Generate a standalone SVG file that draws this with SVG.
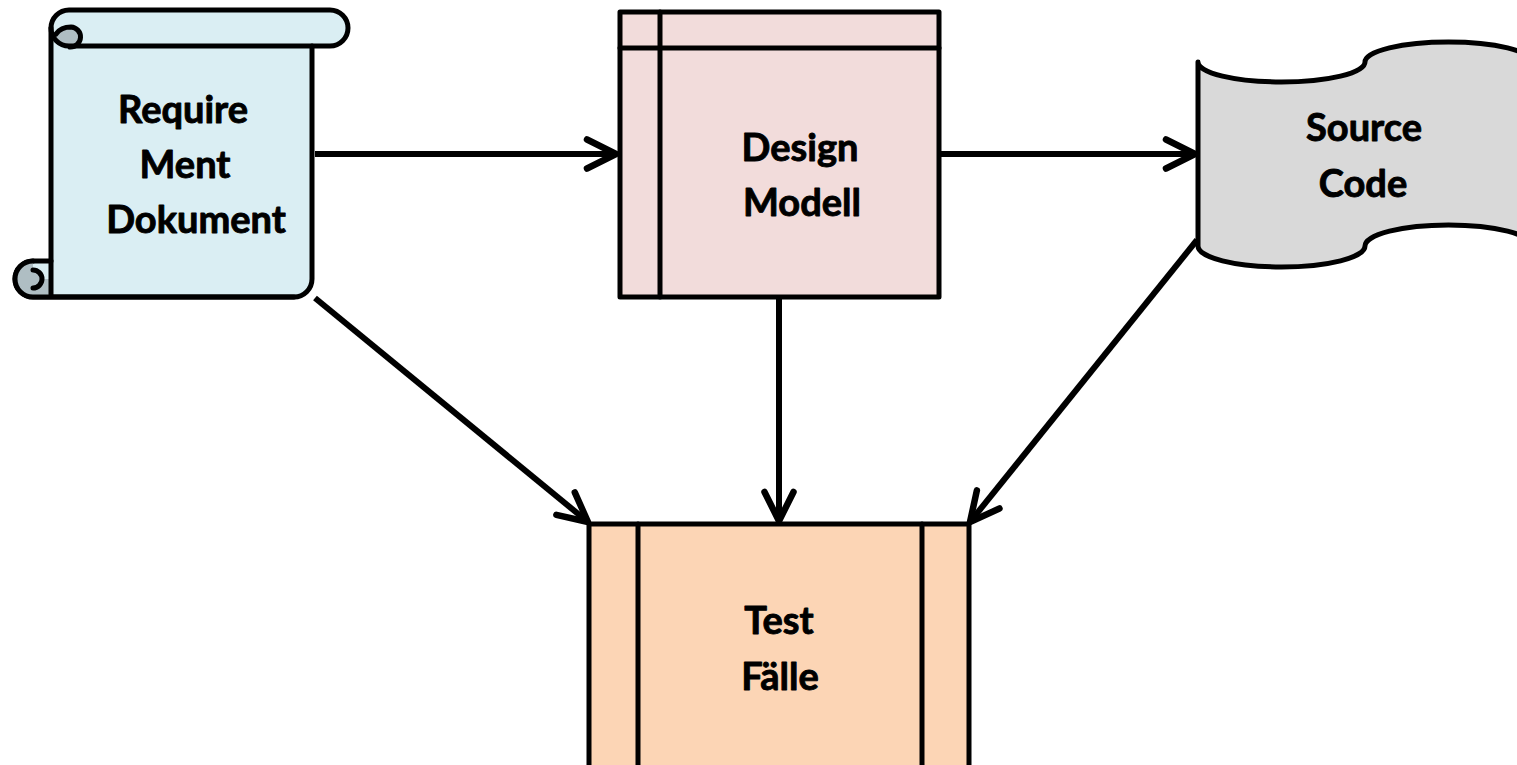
<svg xmlns="http://www.w3.org/2000/svg" width="1517" height="765" viewBox="0 0 1517 765">
<style>
.lbl{font-family:Lato,"Open Sans","Liberation Sans",sans-serif;font-weight:bold;font-size:38px;fill:#000;stroke:#000;stroke-width:0.9;stroke-linejoin:round;text-anchor:middle}
.ol{stroke:#000;stroke-width:5;stroke-linejoin:round;stroke-linecap:round}
.ln{fill:none;stroke:#000;stroke-width:5;stroke-linecap:round;stroke-linejoin:round}
.con{fill:none;stroke:#000;stroke-width:6;marker-end:url(#arr)}
</style>
<defs>
<marker id="arr" markerUnits="userSpaceOnUse" markerWidth="44" markerHeight="44" viewBox="-36 -22 44 44" refX="0" refY="0" orient="auto">
<path d="M -29,-14.5 L 0,0 L -29,14.5" fill="none" stroke="#000" stroke-width="6.5" stroke-linecap="round" stroke-linejoin="round"/>
</marker>
</defs>
<rect width="1517" height="765" fill="#fff"/>
<g id="connectors">
<path class="con" d="M 315,154 L 616,154"/>
<path class="con" d="M 941,154 L 1195,154"/>
<path class="con" d="M 315,298 L 588,522"/>
<path class="con" d="M 779,299 L 779,521"/>
<path class="con" d="M 1197,240 L 970,522"/>
</g>
<g id="requirement">
<path class="ol" fill="#DAEEF3" d="M 33,297 L 294,297 A 18 18 0 0 0 312,279 L 312,46 L 330,46 A 18 18 0 0 0 330,10 L 69,10 A 18 18 0 0 0 51,28 L 51,261 L 33,261 A 18 18 0 0 0 33,297 Z"/>
<path fill="#AFBEC3" d="M 55,36 Q 60,27 71,27 A 10 10 0 0 1 71,47 L 69,46 A 18 18 0 0 1 53,37 Z"/>
<path fill="#AFBEC3" d="M 33,261 A 18 18 0 0 0 33,297 L 51,297 L 51,279 L 42,279 A 9 9 0 0 0 33,270 Z"/>
<path class="ln" d="M 51,28 A 18 18 0 0 0 69,46 L 312,46"/>
<path class="ln" d="M 56,34 Q 61,27 71,27 A 10 10 0 0 1 70,47"/>
<path class="ln" d="M 33,270 A 9 9 0 0 1 33,288"/>
<path class="ln" d="M 51,261 L 51,295"/>
<path class="ln" d="M 33,261 A 18 18 0 0 0 33,297 L 294,297"/>
<text class="lbl" x="183" y="123">Require</text>
<text class="lbl" x="185" y="178">Ment</text>
<text class="lbl" x="196" y="233">Dokument</text>
</g>
<g id="design">
<rect class="ol" x="620" y="12" width="319" height="285" fill="#F2DCDB"/>
<path class="ln" d="M 620,48 L 939,48 M 660,12 L 660,297"/>
<text class="lbl" x="800" y="161">Design</text>
<text class="lbl" x="802" y="216">Modell</text>
</g>
<g id="source">
<path class="ol" fill="#D9D9D9" d="M 1198,62 A 83.5 20 0 0 0 1365,62 A 83.5 20 0 0 1 1532,62 L 1532,246 A 83.5 21 0 0 0 1365,246 A 83.5 21 0 0 1 1198,246 Z"/>
<text class="lbl" x="1364" y="141">Source</text>
<text class="lbl" x="1363" y="197">Code</text>
</g>
<g id="test">
<rect class="ol" x="589" y="524" width="380" height="260" fill="#FCD5B5"/>
<path class="ln" d="M 638,524 L 638,770 M 922,524 L 922,770"/>
<text class="lbl" x="779" y="634">Test</text>
<text class="lbl" x="780" y="690">Fälle</text>
</g>
</svg>
